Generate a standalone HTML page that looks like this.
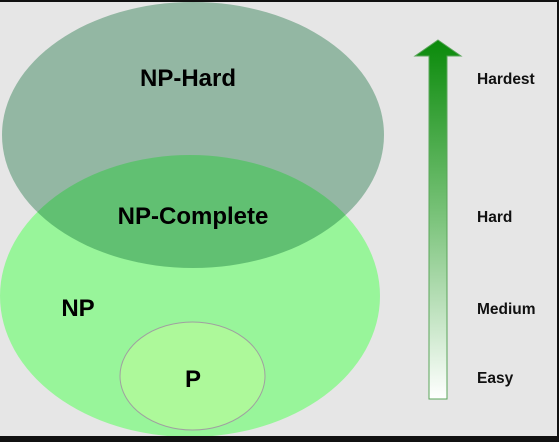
<!DOCTYPE html>
<html><head><style>
html,body{margin:0;padding:0;background:#e6e6e6;}
svg{display:block;}
</style></head><body>
<svg width="559" height="442" viewBox="0 0 559 442" xmlns="http://www.w3.org/2000/svg">
<defs>
<linearGradient id="g" x1="0" y1="0" x2="0" y2="1">
<stop offset="0" stop-color="#0a8a0a"/>
<stop offset="0.5" stop-color="#7cc47c"/>
<stop offset="1" stop-color="#ffffff"/>
</linearGradient>
</defs>
<rect x="0" y="0" width="559" height="442" fill="#e6e6e6"/>
<ellipse cx="190" cy="296" rx="190" ry="141" fill="#98f59a"/>
<ellipse cx="193" cy="135" rx="191" ry="133" fill="rgb(0,100,44)" fill-opacity="0.36"/>
<ellipse cx="192.5" cy="376" rx="72.5" ry="54" fill="#adf99a" stroke="#a0a0a0" stroke-width="1"/>
<g font-family="Liberation Sans, sans-serif" font-weight="bold" fill="#000">
<text x="188" y="86" font-size="24" text-anchor="middle">NP-Hard</text>
<text x="193" y="224" font-size="24" text-anchor="middle">NP-Complete</text>
<text x="78" y="316" font-size="24" text-anchor="middle">NP</text>
<text x="193" y="387" font-size="24" text-anchor="middle">P</text>
<g font-size="15.5" fill="#111">
<text x="477" y="84">Hardest</text>
<text x="477" y="222">Hard</text>
<text x="477" y="314">Medium</text>
<text x="477" y="383">Easy</text>
</g>
</g>
<path d="M438,40 L461,56 L447,56 L447,399 L429,399 L429,56 L415,56 Z" fill="url(#g)" stroke="#5aa55a" stroke-width="1"/>
<rect x="0" y="0" width="559" height="2" fill="#111"/>
<rect x="0" y="436" width="559" height="6" fill="#111"/>
<rect x="557" y="0" width="2" height="442" fill="#111"/>
</svg>
</body></html>
